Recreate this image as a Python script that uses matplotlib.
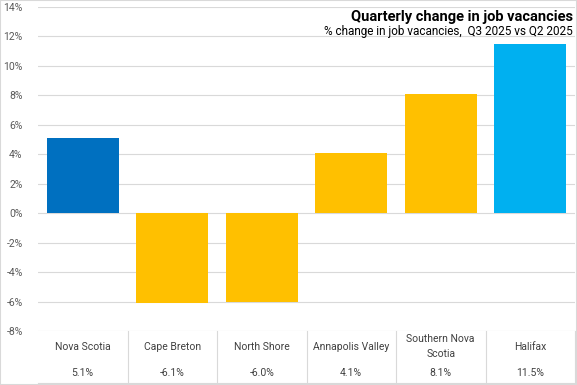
import matplotlib.pyplot as plt
from matplotlib.patches import Rectangle

plt.rcParams['font.family'] = ['Roboto', 'DejaVu Sans']

regions = ['Nova Scotia', 'Cape Breton', 'North Shore', 'Annapolis Valley',
           'Southern Nova\nScotia', 'Halifax']
change = [5.1, -6.1, -6.0, 4.1, 8.1, 11.5]
colors = ['#0070C0', '#FFC000', '#FFC000', '#FFC000', '#FFC000', '#00B0F0']

W, H = 577, 385
fig = plt.figure(figsize=(W / 100, H / 100), dpi=100)
ax = fig.add_axes([38 / W, (H - 331) / H, (575 - 38) / W, 324 / H])

x = range(len(change))
ax.bar(x, change, width=0.81, color=colors, zorder=3)
ax.set_xlim(-0.5, len(change) - 0.5)
ax.set_ylim(-8, 14)
ax.set_yticks(range(-8, 15, 2))
ax.set_yticklabels([f'{t}%' for t in range(-8, 15, 2)], fontsize=7.5, color='#595959')
ax.set_xticks([])
ax.tick_params(axis='y', length=0, pad=11)
ax.grid(axis='y', color='#d9d9d9', linewidth=0.8, zorder=0)
for s in ax.spines.values():
    s.set_visible(False)

# data table below the axis
grid_col = '#d9d9d9'
bottom = (331 - 383) / 324
tr = ax.get_xaxis_transform()
for i in range(1, len(change) + 1):
    ax.plot([i - 0.5, i - 0.5], [0, bottom], transform=tr, color=grid_col,
            linewidth=0.8, clip_on=False)
ax.plot([-0.5, len(change) - 0.5], [bottom, bottom], transform=tr, color=grid_col,
        linewidth=0.8, clip_on=False)
for i, (r, v) in enumerate(zip(regions, change)):
    ax.text(i, -0.049, r, transform=tr, ha='center', va='center', fontsize=7.5,
            color='#404040', linespacing=1.6)
    ax.text(i, -0.1296, f'{v:.1f}%', transform=tr, ha='center', va='center',
            fontsize=7.5, color='#404040')

fig.text(573 / W, 1 - 17 / H, 'Quarterly change in job vacancies', ha='right',
         va='center', fontsize=10.5, fontweight='bold', color='#000000')
fig.text(573 / W, 1 - 32 / H, '% change in job vacancies,  Q3 2025 vs Q2 2025',
         ha='right', va='center', fontsize=8.5, color='#000000')

fig.patches.append(Rectangle((0, 0), 1, 1, transform=fig.transFigure, fill=False,
                             edgecolor='#d9d9d9', linewidth=1.5))

fig.savefig('out.png', dpi=100)
